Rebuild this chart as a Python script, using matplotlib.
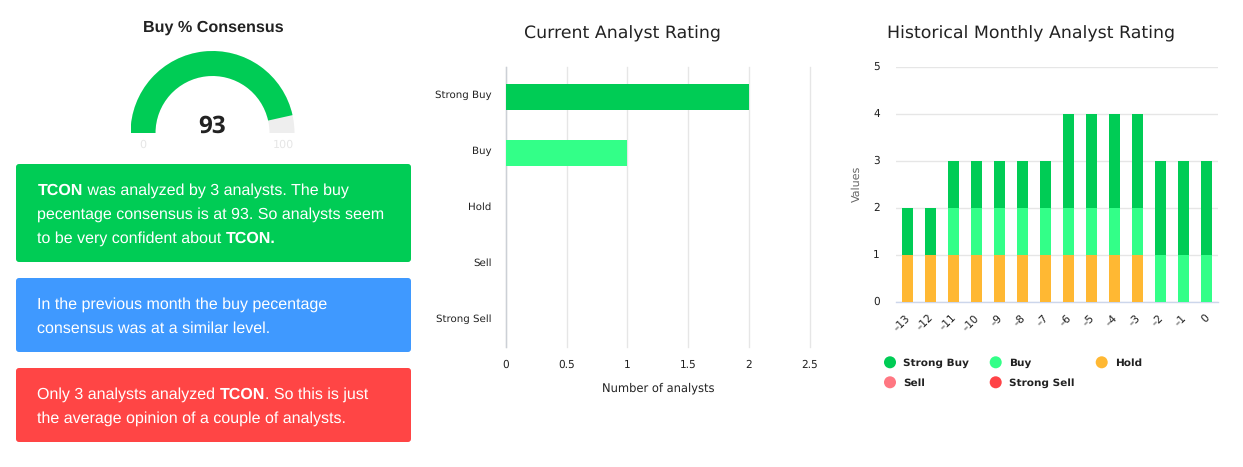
import matplotlib
matplotlib.use('Agg')
import matplotlib.pyplot as plt
from matplotlib.patches import Wedge, FancyBboxPatch
from matplotlib.transforms import ScaledTranslation

plt.rcParams['text.hinting'] = 'no_hinting'

W, H = 1243, 467

# data
gauge_value = 93
gauge_min = 0
gauge_max = 100

rating_names = ['Strong Buy', 'Buy', 'Hold', 'Sell', 'Strong Sell']
current_counts = [2, 1, 0, 0, 0]

months = ['–13', '–12', '–11', '–10', '–9', '–8', '–7', '–6', '–5', '–4', '–3', '–2', '–1', '0']
hist_strong_buy = [1, 1, 1, 1, 1, 1, 1, 2, 2, 2, 2, 2, 2, 2]
hist_buy = [0, 0, 1, 1, 1, 1, 1, 1, 1, 1, 1, 1, 1, 1]
hist_hold = [1, 1, 1, 1, 1, 1, 1, 1, 1, 1, 1, 0, 0, 0]
hist_sell = [0, 0, 0, 0, 0, 0, 0, 0, 0, 0, 0, 0, 0, 0]
hist_strong_sell = [0, 0, 0, 0, 0, 0, 0, 0, 0, 0, 0, 0, 0, 0]

card_texts = [
    [[('TCON', True), (' was analyzed by 3 analysts. The buy', False)],
     [('pecentage consensus is at 93. So analysts seem', False)],
     [('to be very confident about ', False), ('TCON.', True)]],
    [[('In the previous month the buy pecentage', False)],
     [('consensus was at a similar level.', False)]],
    [[('Only 3 analysts analyzed ', False), ('TCON', True), ('. So this is just', False)],
     [('the average opinion of a couple of analysts.', False)]],
]

GREEN = '#00cc55'
LIGHT = '#33ff88'
ORANGE = '#ffb833'
PINK = '#ff7782'
RED = '#ff4347'
TXT = '#222222'
GRID = '#e6e6e6'
rating_colors = [GREEN, LIGHT, ORANGE, PINK, RED]


def px_axes(x0, y0, x1, y1):
    # axes placed by pixel box, y counted from the top
    return fig.add_axes([x0 / W, 1 - y1 / H, (x1 - x0) / W, (y1 - y0) / H])


def nudge(labels, dx, dy):
    # move tick labels by some pixels, dy up
    for lab in labels:
        lab.set_transform(lab.get_transform() + ScaledTranslation(dx / 100, dy / 100, fig.dpi_scale_trans))


fig = plt.figure(figsize=(W / 100, H / 100), dpi=100, facecolor='white')

# page layer in pixels
page = fig.add_axes([0, 0, 1, 1])
page.set_xlim(0, W)
page.set_ylim(H, 0)
page.axis('off')

# gauge
cx, cy, r_out, r_in = 212.5, 133, 82, 57
end_angle = 180 - 180 * (gauge_value - gauge_min) / (gauge_max - gauge_min)
g = px_axes(cx - r_out, cy - r_out, cx + r_out, cy)
g.set_xlim(-r_out, r_out)
g.set_ylim(0, r_out)
g.axis('off')
g.add_patch(Wedge((0, 0), r_out, 0, 180, width=r_out - r_in, fc='#eeeeee', ec='none'))
g.add_patch(Wedge((0, 0), r_out, end_angle, 180, width=r_out - r_in, fc=GREEN, ec='none'))

page.text(213, 32, 'Buy % Consensus', family='Liberation Sans', weight='bold', fontsize=11.6,
          color=TXT, ha='center', va='baseline')
page.text(212.5, 133, str(gauge_value), family='Open Sans', weight='bold', fontsize=17.5,
          color=TXT, ha='center', va='baseline')
page.text(143, 145, str(gauge_min), fontsize=8, color='#e6e6e6', ha='center', va='center')
page.text(283, 145, str(gauge_max), fontsize=8, color='#e6e6e6', ha='center', va='center')


# cards
def draw_runs(x, y, runs):
    renderer = fig.canvas.get_renderer()
    for text, bold in runs:
        t = page.text(x, y, text, family='Liberation Sans', weight='bold' if bold else 'normal',
                      fontsize=11.5, color='white', ha='left', va='baseline')
        x += t.get_window_extent(renderer).width


card_boxes = [(16, 164, 411, 262, '#00cc55', 194.5), (16, 278, 411, 352, '#3f99ff', 308.5), (16, 368, 411, 442, '#ff4545', 398.5)]
for (x0, y0, x1, y1, col, first_y), lines in zip(card_boxes, card_texts):
    page.add_patch(FancyBboxPatch((x0 + 3, y0 + 3), x1 - x0 - 6, y1 - y0 - 6,
                                  boxstyle='round,pad=3,rounding_size=3', fc=col, ec='none'))
    for i, runs in enumerate(lines):
        draw_runs(37.5, first_y + i * 24, runs)

# current rating
ax = px_axes(506, 67, 809.5, 347)
bar_pos = [i + 0.035 for i in range(len(rating_names))]
ax.barh(bar_pos, current_counts, height=0.47, color=rating_colors, zorder=3)
ax.set_ylim(4.5, -0.5)
ax.set_xlim(0, 2.5)
ax.set_xticks([0, 0.5, 1, 1.5, 2, 2.5])
ax.set_xticklabels(['0', '0.5', '1', '1.5', '2', '2.5'], fontsize=7.6, color=TXT)
ax.set_yticks(range(len(rating_names)))
ax.set_yticklabels(rating_names, fontsize=7.4, color=TXT)
ax.tick_params(length=0)
ax.tick_params(axis='x', pad=9)
ax.tick_params(axis='y', pad=10.5)
ax.grid(axis='x', color=GRID, lw=1, zorder=0)
for gl in ax.get_xgridlines():
    gl.set_clip_on(False)
for s in ['top', 'right', 'bottom']:
    ax.spines[s].set_visible(False)
ax.spines['left'].set_color('#ccd0d6')
ax.spines['left'].set_linewidth(1)
nudge(ax.get_yticklabels(), 0, 1)
page.text(658.5, 392, 'Number of analysts', fontsize=8.3, color=TXT, ha='center', va='baseline')
page.text(622, 38, 'Current Analyst Rating', fontsize=12.5, color=TXT, ha='center', va='baseline')

# historical rating
ax2 = px_axes(896, 67, 1218, 302)
xs = range(len(months))
bottom = [0] * len(months)
for vals, col in zip([hist_strong_sell, hist_sell, hist_hold, hist_buy, hist_strong_buy],
                     [RED, PINK, ORANGE, LIGHT, GREEN]):
    ax2.bar(xs, vals, bottom=bottom, width=0.48, color=col, zorder=3)
    bottom = [b + v for b, v in zip(bottom, vals)]
ax2.set_xlim(-0.5, len(months) - 0.5)
ax2.set_ylim(0, 5)
ax2.set_yticks(range(6))
ax2.tick_params(length=0)
ax2.tick_params(axis='y', labelsize=7.6, labelcolor=TXT, pad=11.5)
ax2.set_xticks(list(xs))
ax2.set_xticklabels(months, rotation=45, ha='right', rotation_mode='anchor', fontsize=7.6, color=TXT)
ax2.tick_params(axis='x', pad=7.5)
ax2.grid(axis='y', color=GRID, lw=1, zorder=0)
for s in ['top', 'right', 'left']:
    ax2.spines[s].set_visible(False)
ax2.spines['bottom'].set_color('#ccd6eb')
ax2.spines['bottom'].set_linewidth(1)
nudge(ax2.get_yticklabels(), 0, 1.5)
nudge(ax2.get_xticklabels(), -2.5, 0)
page.text(856.5, 184, 'Values', fontsize=8, color='#666666', rotation=90, ha='center', va='center')
page.text(1031, 38, 'Historical Monthly Analyst Rating', fontsize=12.5, color=TXT, ha='center', va='baseline')

# legend
legend_x = [890, 995.7, 1101.7]
legend_y = [362.3, 382.3]
for i, (name, col) in enumerate(zip(rating_names, rating_colors)):
    lx = legend_x[i % 3]
    ly = legend_y[i // 3]
    page.scatter([lx], [ly], s=75, color=col, edgecolors='none')
    page.text(lx + 13, ly + 4, name, fontsize=7.55, weight='bold', color=TXT, ha='left', va='baseline')

fig.savefig('out.png', dpi=100)
